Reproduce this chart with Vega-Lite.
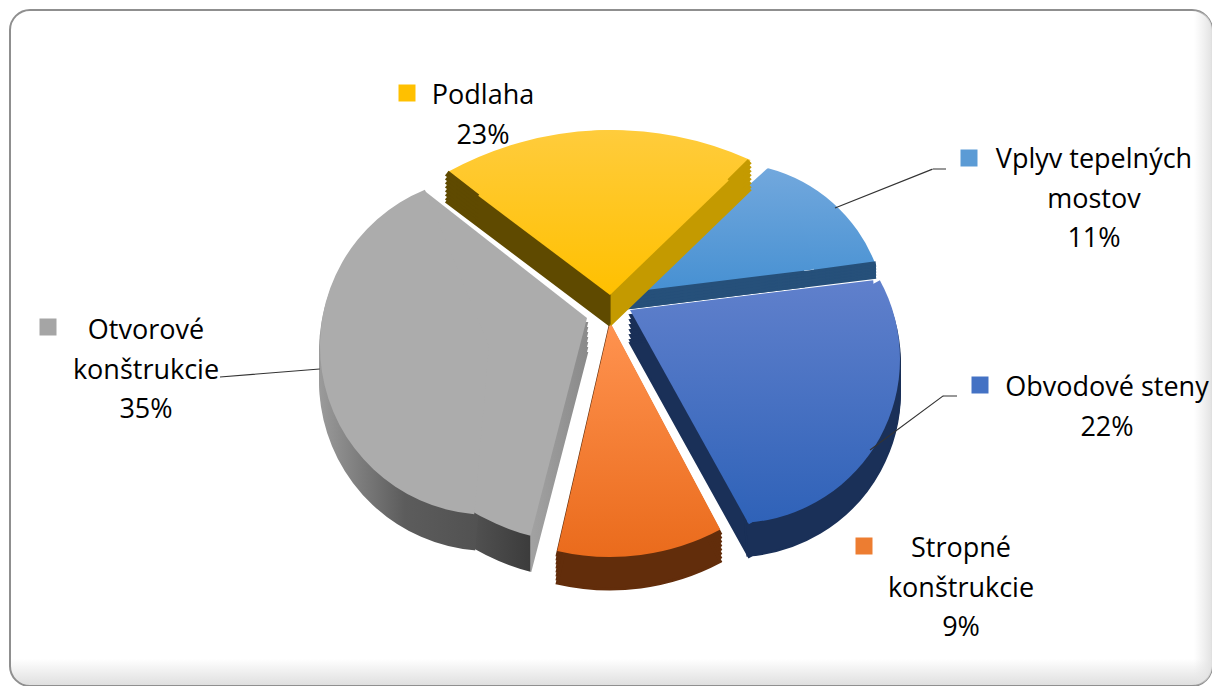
{"$schema":"https://vega.github.io/schema/vega-lite/v6.json","width":1202,"height":676,"autosize":{"type":"none"},"padding":{"left":10,"top":10,"right":0,"bottom":0},"background":"white",
"view":{"stroke":"#8f8f8f","strokeWidth":2,"cornerRadius":20,"fill":{"gradient":"linear","x1":0,"y1":0,"x2":0,"y2":1,"stops":[{"offset":0,"color":"#ffffff"},{"offset":0.96,"color":"#ffffff"},{"offset":1,"color":"#dedede"}]}},
"config":{"style":{"label":{"font":"Open Sans","fontSize":27,"fill":"#1a1a1a","align":"center","baseline":"alphabetic","lineBreak":"\n","lineHeight":39.5}}},
"data":{"values":[
{"name":"Podlaha","value":23,"order":1,"label":"Podlaha\n23%"},
{"name":"Vplyv tepelných mostov","value":11,"order":2,"label":"Vplyv tepelných\nmostov\n11%"},
{"name":"Obvodové steny","value":22,"order":3,"label":"Obvodové steny\n22%"},
{"name":"Stropné konštrukcie","value":9,"order":4,"label":"Stropné\nkonštrukcie\n9%"},
{"name":"Otvorové konštrukcie","value":35,"order":5,"label":"Otvorové\nkonštrukcie\n35%"}]},
"transform":[{"stack":"value","sort":[{"field":"order","order":"ascending"}],"as":["v0","v1"]}],
"resolve":{"scale":{"theta":"independent"}},
"layer":[
{"transform":[{"filter":"datum.order==1"}],"mark":{"type":"rect","fill":{"gradient":"linear","x1":0,"y1":0,"x2":1,"y2":0,"stops":[{"offset":0,"color":"rgba(230,230,230,0)"},{"offset":0.985,"color":"rgba(230,230,230,0)"},{"offset":1,"color":"rgba(226,226,226,1)"}]},"fillOpacity":1,"opacity":1,"cornerRadius":20}},
{"transform":[{"filter":"datum.order==5"}],"encoding":{"theta":{"field":"v0","type":"quantitative","stack":null,"scale":{"domain":[65,100],"range":[3.395,4.712]}},"theta2":{"field":"v1"},"radius":{"value":225},"fill":{"value":{"gradient":"linear","x1":0,"y1":0,"x2":1,"y2":0,"stops":[{"offset":0,"color":"#7a7a7a"},{"offset":0.745,"color":"#3c3c3c"},{"offset":0.75,"color":"#a2a2a2"},{"offset":1,"color":"#8a8a8a"}]}},"stroke":{"value":{"gradient":"linear","x1":0,"y1":0,"x2":1,"y2":0,"stops":[{"offset":0,"color":"#7a7a7a"},{"offset":0.745,"color":"#3c3c3c"},{"offset":0.75,"color":"#a2a2a2"},{"offset":1,"color":"#8a8a8a"}]}}},"layer":[
{"mark":{"type":"arc","strokeWidth":2,"xOffset":-24,"yOffset":-25}},{"mark":{"type":"arc","strokeWidth":2,"xOffset":-24,"yOffset":-20}},{"mark":{"type":"arc","strokeWidth":2,"xOffset":-24,"yOffset":-15}},{"mark":{"type":"arc","strokeWidth":2,"xOffset":-24,"yOffset":-10}},{"mark":{"type":"arc","strokeWidth":2,"xOffset":-24,"yOffset":-5}},{"mark":{"type":"arc","strokeWidth":2,"xOffset":-24,"yOffset":0}},{"mark":{"type":"arc","strokeWidth":2,"xOffset":-24,"yOffset":5}}]},
{"transform":[{"filter":"datum.order==5"}],"encoding":{"theta":{"field":"v0","type":"quantitative","stack":null,"scale":{"domain":[65,100],"range":[3.229,5.894]}},"theta2":{"field":"v1"},"radius":{"value":169},"fill":{"value":{"gradient":"linear","x1":0,"y1":0,"x2":1,"y2":0,"stops":[{"offset":0,"color":"#9a9a9a"},{"offset":0.5,"color":"#5c5c5c"},{"offset":1,"color":"#505050"}]}},"stroke":{"value":{"gradient":"linear","x1":0,"y1":0,"x2":1,"y2":0,"stops":[{"offset":0,"color":"#9a9a9a"},{"offset":0.5,"color":"#5c5c5c"},{"offset":1,"color":"#505050"}]}}},"layer":[
{"mark":{"type":"arc","strokeWidth":2,"xOffset":-122,"yOffset":3}},{"mark":{"type":"arc","strokeWidth":2,"xOffset":-122,"yOffset":8}},{"mark":{"type":"arc","strokeWidth":2,"xOffset":-122,"yOffset":13}},{"mark":{"type":"arc","strokeWidth":2,"xOffset":-122,"yOffset":18}},{"mark":{"type":"arc","strokeWidth":2,"xOffset":-122,"yOffset":23}},{"mark":{"type":"arc","strokeWidth":2,"xOffset":-122,"yOffset":28}},{"mark":{"type":"arc","strokeWidth":2,"xOffset":-122,"yOffset":33}}]},
{"transform":[{"filter":"datum.order==5"}],"encoding":{"theta":{"field":"v0","type":"quantitative","stack":null,"scale":{"domain":[65,100],"range":[3.395,4.712]}},"theta2":{"field":"v1"},"radius":{"value":225}},"mark":{"type":"arc","fill":"#acacac","xOffset":-24,"yOffset":-30}},
{"transform":[{"filter":"datum.order==5"}],"encoding":{"theta":{"field":"v0","type":"quantitative","stack":null,"scale":{"domain":[65,100],"range":[4.712,5.376]}},"theta2":{"field":"v1"},"radius":{"value":206}},"mark":{"type":"arc","fill":"#acacac","xOffset":-24,"yOffset":-30}},
{"transform":[{"filter":"datum.order==5"}],"encoding":{"theta":{"field":"v0","type":"quantitative","stack":null,"scale":{"domain":[65,100],"range":[3.229,5.894]}},"theta2":{"field":"v1"},"radius":{"value":169}},"mark":{"type":"arc","fill":"#acacac","xOffset":-122,"yOffset":-2}},
{"transform":[{"filter":"datum.order==4"}],"encoding":{"theta":{"field":"v0","type":"quantitative","stack":null,"scale":{"domain":[56,65],"range":[2.653,3.368]}},"theta2":{"field":"v1"},"radius":{"value":235}},"layer":[
{"mark":{"type":"arc","fill":"#622d0b","stroke":"#622d0b","strokeWidth":3,"xOffset":-1,"yOffset":-22}},{"mark":{"type":"arc","fill":"#622d0b","stroke":"#622d0b","strokeWidth":3,"xOffset":-1,"yOffset":-18}},{"mark":{"type":"arc","fill":"#622d0b","stroke":"#622d0b","strokeWidth":3,"xOffset":-1,"yOffset":-14}},{"mark":{"type":"arc","fill":"#622d0b","stroke":"#622d0b","strokeWidth":3,"xOffset":-1,"yOffset":-10}},{"mark":{"type":"arc","fill":"#622d0b","stroke":"#622d0b","strokeWidth":3,"xOffset":-1,"yOffset":-6}},{"mark":{"type":"arc","fill":"#622d0b","stroke":"#622d0b","strokeWidth":3,"xOffset":-1,"yOffset":-2}},{"mark":{"type":"arc","fill":"#622d0b","stroke":"#622d0b","strokeWidth":3,"xOffset":-1,"yOffset":2}},{"mark":{"type":"arc","fill":"#622d0b","stroke":"#622d0b","strokeWidth":3,"xOffset":-1,"yOffset":6}},
{"mark":{"type":"arc","fill":{"gradient":"linear","x1":0,"y1":0,"x2":0,"y2":1,"stops":[{"offset":0,"color":"#ff9350"},{"offset":1,"color":"#ea6b1c"}]},"xOffset":-1,"yOffset":-26}}]},
{"transform":[{"filter":"datum.order==3"}],"encoding":{"theta":{"field":"v0","type":"quantitative","stack":null,"scale":{"domain":[34,56],"range":[1.449,2.635]}},"theta2":{"field":"v1"},"radius":{"value":245}},"layer":[
{"mark":{"type":"arc","fill":"#1a3058","stroke":"#1a3058","strokeWidth":2,"xOffset":19,"yOffset":-33}},{"mark":{"type":"arc","fill":"#1a3058","stroke":"#1a3058","strokeWidth":2,"xOffset":19,"yOffset":-28}},{"mark":{"type":"arc","fill":"#1a3058","stroke":"#1a3058","strokeWidth":2,"xOffset":19,"yOffset":-23}},{"mark":{"type":"arc","fill":"#1a3058","stroke":"#1a3058","strokeWidth":2,"xOffset":19,"yOffset":-18}},{"mark":{"type":"arc","fill":"#1a3058","stroke":"#1a3058","strokeWidth":2,"xOffset":19,"yOffset":-13}},{"mark":{"type":"arc","fill":"#1a3058","stroke":"#1a3058","strokeWidth":2,"xOffset":19,"yOffset":-8}},{"mark":{"type":"arc","fill":"#1a3058","stroke":"#1a3058","strokeWidth":2,"xOffset":19,"yOffset":-5}}]},
{"transform":[{"filter":"datum.order==3"}],"encoding":{"theta":{"field":"v0","type":"quantitative","stack":null,"scale":{"domain":[34,56],"range":[1.07,3.072]}},"theta2":{"field":"v1"},"radius":{"value":164}},"layer":[
{"mark":{"type":"arc","fill":"#1a3058","stroke":"#1a3058","strokeWidth":2,"xOffset":125,"yOffset":16}},{"mark":{"type":"arc","fill":"#1a3058","stroke":"#1a3058","strokeWidth":2,"xOffset":125,"yOffset":21}},{"mark":{"type":"arc","fill":"#1a3058","stroke":"#1a3058","strokeWidth":2,"xOffset":125,"yOffset":26}},{"mark":{"type":"arc","fill":"#1a3058","stroke":"#1a3058","strokeWidth":2,"xOffset":125,"yOffset":31}},{"mark":{"type":"arc","fill":"#1a3058","stroke":"#1a3058","strokeWidth":2,"xOffset":125,"yOffset":36}},{"mark":{"type":"arc","fill":"#1a3058","stroke":"#1a3058","strokeWidth":2,"xOffset":125,"yOffset":41}},{"mark":{"type":"arc","fill":"#1a3058","stroke":"#1a3058","strokeWidth":2,"xOffset":125,"yOffset":44}}]},
{"transform":[{"filter":"datum.order==3"}],"encoding":{"theta":{"field":"v0","type":"quantitative","stack":null,"scale":{"domain":[34,56],"range":[1.449,2.635]}},"theta2":{"field":"v1"},"radius":{"value":245}},"mark":{"type":"arc","fill":{"gradient":"linear","x1":0,"y1":0,"x2":0,"y2":1,"stops":[{"offset":0,"color":"#6080cc"},{"offset":1,"color":"#2e62b8"}]},"xOffset":19,"yOffset":-38}},
{"transform":[{"filter":"datum.order==3"}],"encoding":{"theta":{"field":"v0","type":"quantitative","stack":null,"scale":{"domain":[34,56],"range":[1.07,3.072]}},"theta2":{"field":"v1"},"radius":{"value":164}},"mark":{"type":"arc","fill":{"gradient":"linear","x1":0,"y1":0,"x2":0,"y2":1,"stops":[{"offset":0,"color":"#6080cc"},{"offset":1,"color":"#2f62b8"}]},"xOffset":125,"yOffset":11}},
{"transform":[{"filter":"datum.order==2"}],"encoding":{"theta":{"field":"v0","type":"quantitative","stack":null,"scale":{"domain":[23,34],"range":[0.257,1.196]}},"theta2":{"field":"v1"},"radius":{"value":158},"radius2":{"value":100}},"mark":{"type":"arc","fill":{"gradient":"linear","x1":0,"y1":0,"x2":0,"y2":1,"stops":[{"offset":0,"color":"#72a8dd"},{"offset":1,"color":"#4992d3"}]},"xOffset":117,"yOffset":-27}},
{"transform":[{"filter":"datum.order==2"}],"encoding":{"theta":{"field":"v0","type":"quantitative","stack":null,"scale":{"domain":[23,34],"range":[0.838,1.449]}},"theta2":{"field":"v1"},"radius":{"value":175}},"layer":[
{"mark":{"type":"arc","fill":"#26507a","stroke":"#26507a","strokeWidth":2,"xOffset":19,"yOffset":-52}},{"mark":{"type":"arc","fill":"#26507a","stroke":"#26507a","strokeWidth":2,"xOffset":19,"yOffset":-48}},{"mark":{"type":"arc","fill":"#26507a","stroke":"#26507a","strokeWidth":2,"xOffset":19,"yOffset":-44}},{"mark":{"type":"arc","fill":"#26507a","stroke":"#26507a","strokeWidth":2,"xOffset":19,"yOffset":-40}}]},
{"transform":[{"filter":"datum.order==2"}],"encoding":{"theta":{"field":"v0","type":"quantitative","stack":null,"scale":{"domain":[23,34],"range":[1.434,1.449]}},"theta2":{"field":"v1"},"radius":{"value":247}},"layer":[
{"mark":{"type":"arc","fill":"#26507a","stroke":"#26507a","strokeWidth":2,"xOffset":19,"yOffset":-52}},{"mark":{"type":"arc","fill":"#26507a","stroke":"#26507a","strokeWidth":2,"xOffset":19,"yOffset":-49}},{"mark":{"type":"arc","fill":"#26507a","stroke":"#26507a","strokeWidth":2,"xOffset":19,"yOffset":-46}},{"mark":{"type":"arc","fill":"#26507a","stroke":"#26507a","strokeWidth":2,"xOffset":19,"yOffset":-43}},{"mark":{"type":"arc","fill":"#26507a","stroke":"#26507a","strokeWidth":2,"xOffset":19,"yOffset":-40}}]},
{"transform":[{"filter":"datum.order==2"}],"encoding":{"theta":{"field":"v0","type":"quantitative","stack":null,"scale":{"domain":[23,34],"range":[0.838,1.449]}},"theta2":{"field":"v1"},"radius":{"value":185}},"mark":{"type":"arc","fill":{"gradient":"linear","x1":0,"y1":0,"x2":0,"y2":1,"stops":[{"offset":0,"color":"#72a8dd"},{"offset":1,"color":"#4690d2"}]},"xOffset":19,"yOffset":-56}},
{"transform":[{"filter":"datum.order==1"}],"encoding":{"theta":{"field":"v0","type":"quantitative","stack":null,"scale":{"domain":[0,23],"range":[-0.503,0.424]}},"theta2":{"field":"v1"},"radius":{"value":339},"radius2":{"value":294}},"mark":{"type":"arc","fill":{"gradient":"linear","x1":0,"y1":0,"x2":0,"y2":1,"stops":[{"offset":0,"color":"#ffcc3c"},{"offset":1,"color":"#ffc61f"}]},"yOffset":121}},
{"transform":[{"filter":"datum.order==1"}],"encoding":{"theta":{"field":"v0","type":"quantitative","stack":null,"scale":{"domain":[0,23],"range":[-0.925,-0.911]}},"theta2":{"field":"v1"},"radius":{"value":204}},"layer":[
{"mark":{"type":"arc","fill":"#5f4a00","stroke":"#5f4a00","strokeWidth":3,"xOffset":-1,"yOffset":-50}},{"mark":{"type":"arc","fill":"#5f4a00","stroke":"#5f4a00","strokeWidth":3,"xOffset":-1,"yOffset":-46}},{"mark":{"type":"arc","fill":"#5f4a00","stroke":"#5f4a00","strokeWidth":3,"xOffset":-1,"yOffset":-42}},{"mark":{"type":"arc","fill":"#5f4a00","stroke":"#5f4a00","strokeWidth":3,"xOffset":-1,"yOffset":-38}},{"mark":{"type":"arc","fill":"#5f4a00","stroke":"#5f4a00","strokeWidth":3,"xOffset":-1,"yOffset":-34}},{"mark":{"type":"arc","fill":"#5f4a00","stroke":"#5f4a00","strokeWidth":3,"xOffset":-1,"yOffset":-30}},{"mark":{"type":"arc","fill":"#5f4a00","stroke":"#5f4a00","strokeWidth":3,"xOffset":-1,"yOffset":-26}},{"mark":{"type":"arc","fill":"#5f4a00","stroke":"#5f4a00","strokeWidth":3,"xOffset":-1,"yOffset":-23}}]},
{"transform":[{"filter":"datum.order==1"}],"encoding":{"theta":{"field":"v0","type":"quantitative","stack":null,"scale":{"domain":[0,23],"range":[0.789,0.803]}},"theta2":{"field":"v1"},"radius":{"value":194}},"layer":[
{"mark":{"type":"arc","fill":"#c49a00","stroke":"#c49a00","strokeWidth":3,"xOffset":-1,"yOffset":-50}},{"mark":{"type":"arc","fill":"#c49a00","stroke":"#c49a00","strokeWidth":3,"xOffset":-1,"yOffset":-46}},{"mark":{"type":"arc","fill":"#c49a00","stroke":"#c49a00","strokeWidth":3,"xOffset":-1,"yOffset":-42}},{"mark":{"type":"arc","fill":"#c49a00","stroke":"#c49a00","strokeWidth":3,"xOffset":-1,"yOffset":-38}},{"mark":{"type":"arc","fill":"#c49a00","stroke":"#c49a00","strokeWidth":3,"xOffset":-1,"yOffset":-34}},{"mark":{"type":"arc","fill":"#c49a00","stroke":"#c49a00","strokeWidth":3,"xOffset":-1,"yOffset":-30}},{"mark":{"type":"arc","fill":"#c49a00","stroke":"#c49a00","strokeWidth":3,"xOffset":-1,"yOffset":-26}},{"mark":{"type":"arc","fill":"#c49a00","stroke":"#c49a00","strokeWidth":3,"xOffset":-1,"yOffset":-23}}]},
{"transform":[{"filter":"datum.order==1"}],"encoding":{"theta":{"field":"v0","type":"quantitative","stack":null,"scale":{"domain":[0,23],"range":[-0.925,0.803]}},"theta2":{"field":"v1"},"radius":{"value":165},"fill":{"value":{"gradient":"linear","x1":0,"y1":0,"x2":1,"y2":0,"stops":[{"offset":0,"color":"#5f4a00"},{"offset":0.526,"color":"#5f4a00"},{"offset":0.531,"color":"#c49a00"},{"offset":1,"color":"#c49a00"}]}}},"layer":[
{"mark":{"type":"arc","xOffset":-1,"yOffset":-49}},{"mark":{"type":"arc","xOffset":-1,"yOffset":-45}},{"mark":{"type":"arc","xOffset":-1,"yOffset":-41}},{"mark":{"type":"arc","xOffset":-1,"yOffset":-37}},{"mark":{"type":"arc","xOffset":-1,"yOffset":-33}},{"mark":{"type":"arc","xOffset":-1,"yOffset":-29}},{"mark":{"type":"arc","xOffset":-1,"yOffset":-25}},{"mark":{"type":"arc","xOffset":-1,"yOffset":-23}}]},
{"transform":[{"filter":"datum.order==1"}],"encoding":{"theta":{"field":"v0","type":"quantitative","stack":null,"scale":{"domain":[0,23],"range":[-0.925,0.803]}},"theta2":{"field":"v1"},"radius":{"value":165}},"mark":{"type":"arc","fill":{"gradient":"linear","x1":0,"y1":0,"x2":0,"y2":1,"stops":[{"offset":0,"color":"#ffcc3c"},{"offset":1,"color":"#ffc000"}]},"xOffset":-1,"yOffset":-53}},
{"encoding":{"theta":{"datum":68.3,"type":"quantitative","stack":null,"scale":{"domain":[0,360],"range":[0,6.2832]}},"theta2":{"datum":68.3}},"mark":{"type":"arc","fillOpacity":0,"stroke":"#333333","strokeWidth":1.2,"radius":105,"xOffset":224,"yOffset":-140},"transform":[{"filter":"datum.order==2"}]},
{"encoding":{"theta":{"datum":90,"type":"quantitative","stack":null,"scale":{"domain":[0,360],"range":[0,6.2832]}},"theta2":{"datum":90}},"mark":{"type":"arc","fillOpacity":0,"stroke":"#333333","strokeWidth":1.2,"radius":13,"xOffset":322,"yOffset":-179},"transform":[{"filter":"datum.order==2"}]},
{"encoding":{"theta":{"datum":53.5,"type":"quantitative","stack":null,"scale":{"domain":[0,360],"range":[0,6.2832]}},"theta2":{"datum":53.5}},"mark":{"type":"arc","fillOpacity":0,"stroke":"#333333","strokeWidth":1.2,"radius":91,"xOffset":259,"yOffset":102},"transform":[{"filter":"datum.order==3"}]},
{"encoding":{"theta":{"datum":90,"type":"quantitative","stack":null,"scale":{"domain":[0,360],"range":[0,6.2832]}},"theta2":{"datum":90}},"mark":{"type":"arc","fillOpacity":0,"stroke":"#333333","strokeWidth":1.2,"radius":14,"xOffset":332,"yOffset":48},"transform":[{"filter":"datum.order==3"}]},
{"encoding":{"theta":{"datum":85.4,"type":"quantitative","stack":null,"scale":{"domain":[0,360],"range":[0,6.2832]}},"theta2":{"datum":85.4}},"mark":{"type":"arc","fillOpacity":0,"stroke":"#333333","strokeWidth":1.2,"radius":100,"xOffset":-391,"yOffset":29},"transform":[{"filter":"datum.order==5"}]},
{"transform":[{"filter":"datum.order==1"}],"encoding":{"text":{"field":"label"}},"layer":[{"mark":{"type":"text","style":"label","dx":-128,"dy":-244}}]},
{"transform":[{"filter":"datum.order==2"}],"encoding":{"text":{"field":"label"}},"layer":[{"mark":{"type":"text","style":"label","dx":483,"dy":-180}}]},
{"transform":[{"filter":"datum.order==3"}],"encoding":{"text":{"field":"label"}},"layer":[{"mark":{"type":"text","style":"label","dx":496,"dy":48}}]},
{"transform":[{"filter":"datum.order==4"}],"encoding":{"text":{"field":"label"}},"layer":[{"mark":{"type":"text","style":"label","dx":350,"dy":209}}]},
{"transform":[{"filter":"datum.order==5"}],"encoding":{"text":{"field":"label"}},"layer":[{"mark":{"type":"text","style":"label","dx":-465,"dy":-9}}]},
{"transform":[{"filter":"datum.order==1"}],"mark":{"type":"point","shape":"square","filled":true,"size":289,"color":"#ffc000","opacity":1,"xOffset":-204,"yOffset":-255}},
{"transform":[{"filter":"datum.order==2"}],"mark":{"type":"point","shape":"square","filled":true,"size":289,"color":"#5b9bd5","opacity":1,"xOffset":358,"yOffset":-190}},
{"transform":[{"filter":"datum.order==3"}],"mark":{"type":"point","shape":"square","filled":true,"size":289,"color":"#4472c4","opacity":1,"xOffset":369,"yOffset":37}},
{"transform":[{"filter":"datum.order==4"}],"mark":{"type":"point","shape":"square","filled":true,"size":289,"color":"#ed7d31","opacity":1,"xOffset":253,"yOffset":198}},
{"transform":[{"filter":"datum.order==5"}],"mark":{"type":"point","shape":"square","filled":true,"size":289,"color":"#a5a5a5","opacity":1,"xOffset":-563,"yOffset":-21}}
]}
